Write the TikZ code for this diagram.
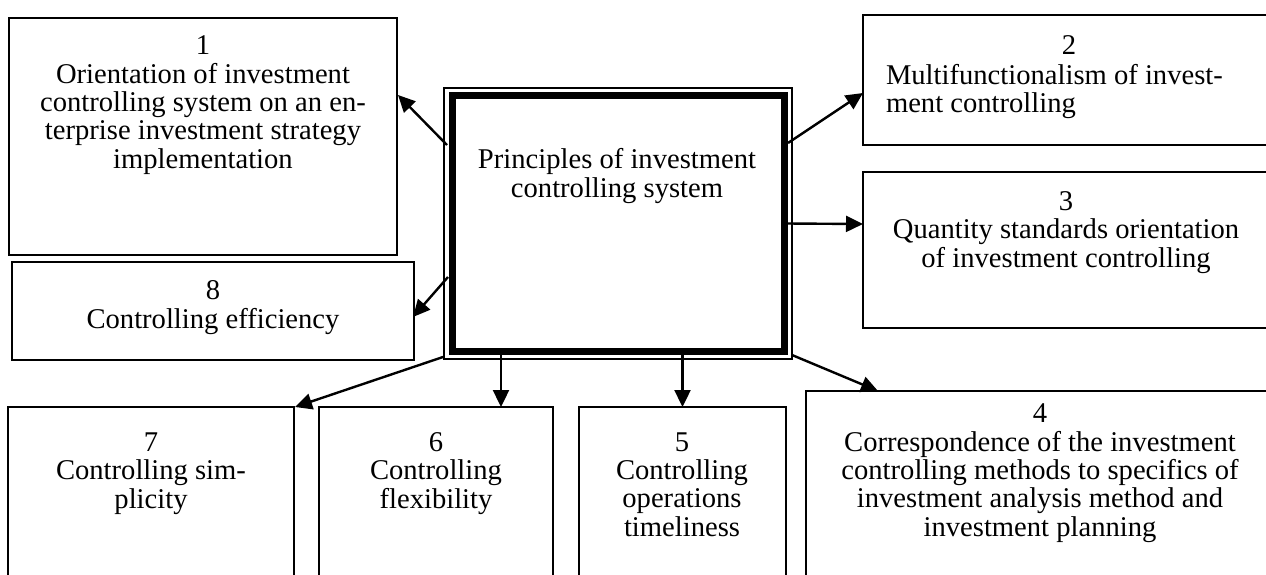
\documentclass[tikz,border=0pt]{standalone}
\usepackage{fontspec}
\setmainfont{Liberation Serif}
\usetikzlibrary{arrows.meta}
\begin{document}
\begin{tikzpicture}[x=1pt,y=-1pt,
  box/.style={draw,line width=1.7pt,inner sep=0pt,outer sep=0pt,minimum width=#1},
  txt/.style={inner sep=0pt,outer sep=0pt,align=center,anchor=base,font=\fontsize{28.6}{28.3}\selectfont},
  arr/.style={line width=2.4pt,-{Triangle[length=17pt,width=16pt]}}]
\useasboundingbox (0,0) rectangle (1266,575);
\clip (0,0) rectangle (1266,575);
\fill[white] (0,0) rectangle (1266,575);
% central double box
\node[draw,line width=1.3pt,inner sep=0pt,outer sep=0pt,minimum width=348pt,minimum height=271pt] (c) at (618,223.5) {};
\node[draw,line width=7pt,inner sep=0pt,outer sep=0pt,minimum width=332pt,minimum height=256pt] (ci) at (618,223.5) {};
\node[txt] (tc) at (617,197) {Principles of investment\\controlling system};
% boxes
\node[box=388pt,minimum height=237pt] (b1) at (203,136.5) {};
\node[box=412pt,minimum height=130pt] (b2) at (1069,80) {};
\node[box=407pt,minimum height=156pt] (b3) at (1066.5,250) {};
\node[box=402pt,minimum height=98pt] (b8) at (213,311) {};
\node[box=286pt,minimum height=193pt] (b7) at (151,503.5) {};
\node[box=234pt,minimum height=193pt] (b6) at (436,503.5) {};
\node[box=207pt,minimum height=193pt] (b5) at (682.5,503.5) {};
\node[box=468pt,minimum height=209pt] (b4) at (1040,495.5) {};
% texts (anchor base = baseline of the last line)
\node[txt] (t1) at (203,168) {1\\Orientation of investment\\controlling system on an en-\\terprise investment strategy\\implementation};
\node[txt] (t2n) at (1069,55) {2};
\node[txt,align=left,anchor=base west] (t2) at (886,113) {Multifunctionalism of invest-\\ment controlling};
\node[txt] (t3) at (1066,267) {3\\Quantity standards orientation\\of investment controlling};
\node[txt] (t8) at (213,328) {8\\Controlling efficiency};
\node[txt] (t7) at (151,508) {7\\Controlling sim-\\plicity};
\node[txt] (t6) at (436,508) {6\\Controlling\\flexibility};
\node[txt] (t5) at (682,536) {5\\Controlling\\operations\\timeliness};
\node[txt] (t4) at (1040,536) {4\\Correspondence of the investment\\controlling methods to specifics of\\investment analysis method and\\investment planning};
% arrows
\draw[arr] ([shift={(3,57)}]c.north west) -- ([shift={(1,77)}]b1.north east);
\draw[arr] ([shift={(-4,55)}]c.north east) -- ([shift={(0,78)}]b2.north west);
\draw[arr] ([shift={(-6,0)}]c.east) -- ([shift={(0,52)}]b3.north west);
\draw[arr] ([shift={(4,189)}]c.north west) -- ([shift={(-1,55)}]b8.north east);
\draw[arr] ([shift={(-1,-2)}]c.south west) -- ([shift={(1,0)}]b7.north east);
\draw[arr] ([shift={(57,-4)}]c.south west) -- ([shift={(182,0)}]b6.north west);
\draw[arr] (b5.north |- c.south) ++(0,-4) -- (b5.north);
\draw[arr] ([shift={(0,-4)}]c.south east) -- ([shift={(72,0)}]b4.north west);
\end{tikzpicture}
\end{document}
